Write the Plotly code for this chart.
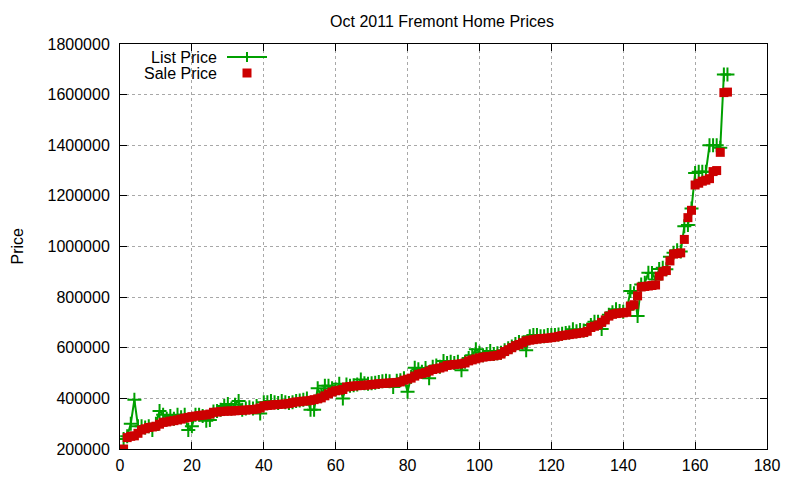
import plotly.graph_objects as go

# Oct 2011 Fremont home prices, sorted by sale price
sale_price = [
    200000, 245000, 250000, 252000, 262000, 275000, 280000, 285000, 287000, 290000,
    298000, 305000, 307000, 310000, 312000, 315000, 318000, 322000, 325000, 328000,
    330000, 332000, 334000, 335000, 338000, 345000, 346000, 348000, 349000, 350000,
    350000, 351000, 352000, 353000, 354000, 355000, 356000, 358000, 362000, 370000,
    372000, 373000, 375000, 376000, 377000, 378000, 380000, 383000, 386000, 387000,
    389000, 390000, 392000, 395000, 398000, 402000, 410000, 418000, 425000, 430000,
    432000, 435000, 445000, 447000, 449000, 450000, 451000, 452000, 453000, 455000,
    456000, 458000, 459000, 460000, 461000, 462000, 463000, 465000, 472000, 476000,
    480000, 488000, 495000, 498000, 502000, 508000, 514000, 517000, 520000, 524000,
    530000, 532000, 534000, 535000, 537000, 540000, 548000, 552000, 556000, 560000,
    563000, 565000, 566000, 568000, 570000, 575000, 585000, 592000, 600000, 608000,
    613000, 620000, 627000, 630000, 632000, 634000, 636000, 637000, 638000, 640000,
    642000, 645000, 648000, 650000, 652000, 654000, 656000, 658000, 660000, 665000,
    680000, 685000, 690000, 700000, 710000, 725000, 732000, 735000, 737000, 738000,
    740000, 765000, 770000, 805000, 840000, 842000, 844000, 846000, 848000, 883000,
    900000, 905000, 943000, 970000, 972000, 975000, 1028000, 1114000, 1143000, 1243000,
    1250000, 1258000, 1262000, 1268000, 1296000, 1300000, 1372000, 1608000, 1610000,
]

list_price = [
    240000, 250000, 300000, 395000, 290000, 290000, 285000, 290000, 275000, 300000,
    350000, 335000, 320000, 330000, 320000, 335000, 325000, 335000, 275000, 290000,
    335000, 335000, 330000, 312000, 315000, 348000, 350000, 355000, 370000, 378000,
    360000, 375000, 390000, 355000, 360000, 365000, 360000, 370000, 340000, 385000,
    385000, 390000, 385000, 382000, 390000, 385000, 382000, 385000, 390000, 392000,
    395000, 400000, 355000, 355000, 440000, 410000, 450000, 450000, 440000, 435000,
    458000, 400000, 455000, 450000, 452000, 455000, 475000, 460000, 458000, 460000,
    462000, 465000, 468000, 470000, 468000, 445000, 470000, 472000, 480000, 426000,
    485000, 521000, 515000, 505000, 520000, 480000, 525000, 530000, 525000, 548000,
    540000, 545000, 540000, 545000, 511000, 545000, 560000, 570000, 594000, 580000,
    570000, 575000, 587000, 575000, 578000, 580000, 590000, 598000, 605000, 615000,
    623000, 620000, 590000, 645000, 650000, 650000, 645000, 645000, 650000, 650000,
    650000, 652000, 655000, 658000, 660000, 673000, 665000, 670000, 668000, 672000,
    690000, 703000, 703000, 674000, 715000, 730000, 740000, 752000, 745000, 742000,
    750000, 824000, 815000, 725000, 850000, 857000, 896000, 895000, 870000, 911000,
    916000, 910000, 960000, 975000, 985000, 980000, 1080000, 1085000, 1150000, 1290000,
    1295000, 1295000, 1295000, 1400000, 1400000, 1400000, 1390000, 1680000, 1680000,
]

house_no = list(range(1, len(sale_price) + 1))

x_ticks = [0, 20, 40, 60, 80, 100, 120, 140, 160, 180]
y_ticks = [200000, 400000, 600000, 800000, 1000000, 1200000, 1400000, 1600000, 1800000]

GREEN = '#00a000'
RED = '#cc0000'
FONT = 'Liberation Sans'
FSIZE = 16

fig = go.Figure()

# NOTE: list price first so the red squares sit on top
fig.add_trace(go.Scatter(x=house_no, y=list_price, mode='lines+markers', name='List Price',
                         line=dict(color=GREEN, width=2),
                         marker=dict(symbol='cross-thin', size=10, line=dict(color=GREEN, width=2))))
fig.add_trace(go.Scatter(x=house_no, y=sale_price, mode='markers', name='Sale Price',
                         marker=dict(symbol='square', size=9, color=RED, line=dict(width=0))))

axis_style = dict(showline=True, linecolor='black', linewidth=1, mirror='allticks',
                  ticks='inside', ticklen=7, tickcolor='black', zeroline=False,
                  showgrid=True, gridcolor='#a8a8a8', griddash='dot', gridwidth=1,
                  tickfont=dict(family=FONT, size=FSIZE, color='black'))

fig.update_xaxes(range=[0, 180], tickvals=x_ticks, ticklabelstandoff=2, **axis_style)
fig.update_yaxes(range=[200000, 1800000], tickvals=y_ticks, tickformat='d', ticklabelstandoff=6,
                 **axis_style)

# NOTE: gnuplot style key (text on the left, sample on the right)
px_w, px_h = 647, 405
shapes = [
    dict(type='line', xref='paper', yref='paper', x0=107 / px_w, x1=147 / px_w, y0=392 / px_h, y1=392 / px_h,
         line=dict(color=GREEN, width=2)),
    dict(type='line', xref='paper', yref='paper', x0=127 / px_w, x1=127 / px_w, y0=387 / px_h, y1=397 / px_h,
         line=dict(color=GREEN, width=2)),
    dict(type='rect', xref='paper', yref='paper', x0=122.5 / px_w, x1=131.5 / px_w, y0=371.5 / px_h,
         y1=380.5 / px_h, fillcolor=RED, line=dict(width=0)),
]
annotations = [
    dict(text='List Price', xref='paper', yref='paper', x=99 / px_w, y=392 / px_h, xanchor='right',
         yanchor='middle', showarrow=False, font=dict(family=FONT, size=FSIZE, color='black')),
    dict(text='Sale Price', xref='paper', yref='paper', x=99 / px_w, y=376 / px_h, xanchor='right',
         yanchor='middle', showarrow=False, font=dict(family=FONT, size=FSIZE, color='black')),
    dict(text='Price', xref='paper', yref='paper', x=-103 / px_w, y=0.5, textangle=-90,
         xanchor='center', yanchor='middle', showarrow=False, font=dict(family=FONT, size=FSIZE, color='black')),
]

# NOTE: page puts the figure about 7px in from the corner, so margins are shifted
fig.update_layout(
    width=800, height=480,
    margin=dict(l=112, r=41, t=36, b=39, autoexpand=False),
    paper_bgcolor='white', plot_bgcolor='white',
    showlegend=False,
    title=dict(text='Oct 2011 Fremont Home Prices', x=(441 - 7) / 800, xanchor='center', y=1 - 13 / 480,
               yanchor='middle', font=dict(family=FONT, size=FSIZE, color='black')),
    shapes=shapes, annotations=annotations,
)

fig.write_html('out.html')
